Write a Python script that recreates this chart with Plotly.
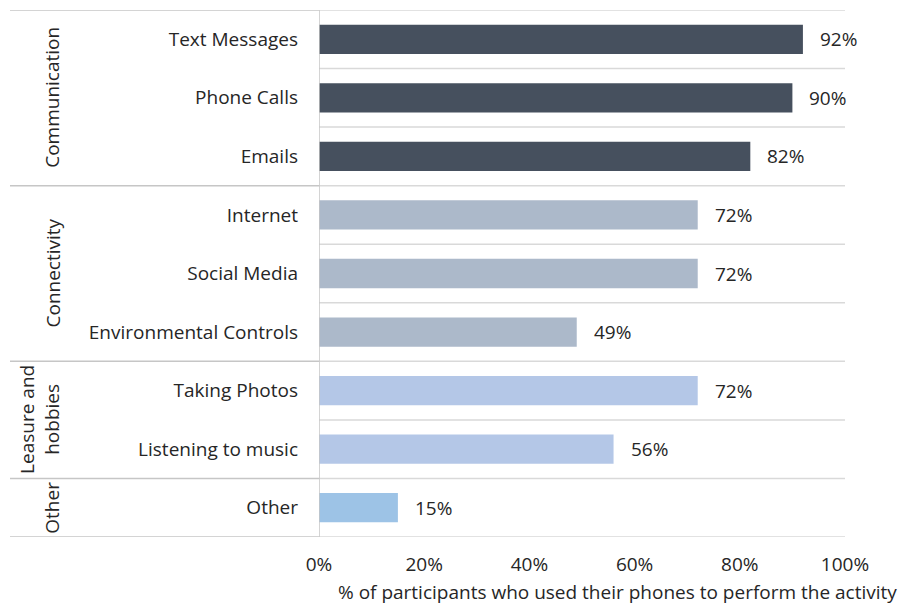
import plotly.graph_objects as go

categories = ["Text Messages", "Phone Calls", "Emails", "Internet", "Social Media",
              "Environmental Controls", "Taking Photos", "Listening to music", "Other"]
values = [92, 90, 82, 72, 72, 49, 72, 56, 15]
groups = ["Communication", "Communication", "Communication",
          "Connectivity", "Connectivity", "Connectivity",
          "Leasure and<br>hobbies", "Leasure and<br>hobbies", "Other"]
group_colors = {"Communication": "#46505e", "Connectivity": "#acb9ca",
                "Leasure and<br>hobbies": "#b4c7e7", "Other": "#9dc3e6"}
x_ticks = [0, 20, 40, 60, 80, 100]
x_title = "% of participants who used their phones to perform the activity"

FONT = "Open Sans"
FS = 19
TXT = "#262626"
W, H = 900, 604
L, T = 319, 10
R = W - 845
B = H - 537
pw = W - L - R
ph = H - T - B

idx = list(range(len(categories)))
fig = go.Figure(go.Bar(
    x=values, y=idx, orientation="h", width=0.5,
    marker=dict(color=[group_colors[g] for g in groups], line=dict(width=0)),
    hoverinfo="x+text", text=categories, textposition="none",
))

shapes = []
for k in range(len(categories) + 1):
    shapes.append(dict(type="line", xref="x", yref="y", x0=0, x1=100,
                       y0=k - 0.5, y1=k - 0.5, line=dict(color="#d9d9d9", width=1.5), layer="below"))
bounds = [-0.5]
for i in range(1, len(groups)):
    if groups[i] != groups[i - 1]:
        bounds.append(i - 0.5)
bounds.append(len(groups) - 0.5)
left_paper = (10 - L) / pw
for b in bounds:
    shapes.append(dict(type="line", xref="paper", yref="y", x0=left_paper, x1=0,
                       y0=b, y1=b, line=dict(color="#c6c6c6", width=1.5)))
shapes.append(dict(type="line", xref="x", yref="y", x0=0, x1=0, y0=-0.5, y1=len(categories) - 0.5,
                   line=dict(color="#c6c6c6", width=1.5)))

annotations = []
for i, v in enumerate(values):
    annotations.append(dict(x=v, y=i, xref="x", yref="y", text=f"{v}%", showarrow=False,
                            xanchor="left", xshift=15, font=dict(family=FONT, size=FS, color=TXT)))
seen = []
for g in groups:
    if g not in seen:
        seen.append(g)
for g in seen:
    rows = [i for i, gg in enumerate(groups) if gg == g]
    cy = (rows[0] + rows[-1]) / 2
    xpx = 40 if "<br>" in g else 52
    annotations.append(dict(x=(xpx - L) / pw, y=cy, xref="paper", yref="y", text=g,
                            showarrow=False, textangle=-90, xanchor="center", yanchor="middle",
                            font=dict(family=FONT, size=FS, color=TXT)))
annotations.append(dict(x=(899 - L) / pw, y=(537 - 592) / ph, xref="paper", yref="paper",
                        text=x_title, showarrow=False, xanchor="right", yanchor="middle",
                        font=dict(family=FONT, size=19, color=TXT)))

fig.update_layout(
    width=W, height=H,
    margin=dict(l=L, r=R, t=T, b=B, pad=0),
    paper_bgcolor="white", plot_bgcolor="white",
    showlegend=False,
    shapes=shapes, annotations=annotations,
    font=dict(family=FONT, size=FS, color=TXT),
    xaxis=dict(range=[0, 100], tickvals=x_ticks, ticktext=[f"{t}%" for t in x_ticks],
               showgrid=False, zeroline=False, showline=False, ticks="",
               ticklabelstandoff=14, tickfont=dict(family=FONT, size=FS, color=TXT)),
    yaxis=dict(range=[len(categories) - 0.5, -0.5], tickvals=idx, ticktext=categories,
               showgrid=False, zeroline=False, showline=False, ticks="",
               ticklabelstandoff=20, tickfont=dict(family=FONT, size=FS, color=TXT)),
)

fig.write_html("out.html", config={"displayModeBar": False},
               post_script="document.body.style.margin='0';document.body.style.overflow='hidden';")
